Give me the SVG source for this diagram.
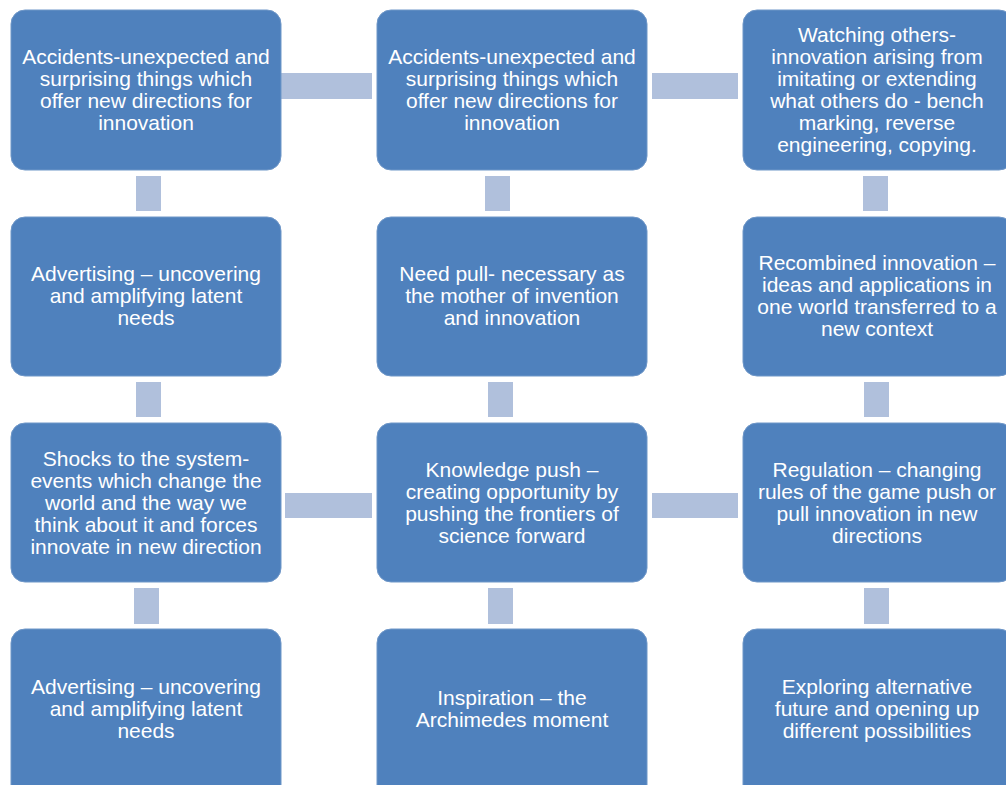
<svg xmlns="http://www.w3.org/2000/svg" width="1006" height="785" viewBox="0 0 1006 785">
<style>
.box{fill:#4F81BD;stroke:#6F97C8;stroke-width:1}
.con{fill:#B0C0DC}
text{font-family:"Liberation Sans",Arial,sans-serif;font-size:21px;fill:#FFFFFF;text-anchor:middle}
</style>
<rect width="1006" height="785" fill="#FFFFFF"/>
<g id="connectors">
<rect class="con" x="281" y="73" width="91" height="26"/>
<rect class="con" x="652" y="73" width="86" height="26"/>
<rect class="con" x="285" y="493" width="87" height="25"/>
<rect class="con" x="652" y="493" width="86" height="25"/>
<rect class="con" x="136" y="176" width="25" height="35"/>
<rect class="con" x="485" y="176" width="25" height="35"/>
<rect class="con" x="863" y="176" width="25" height="35"/>
<rect class="con" x="136" y="382" width="25" height="35"/>
<rect class="con" x="488" y="382" width="25" height="35"/>
<rect class="con" x="864" y="382" width="25" height="35"/>
<rect class="con" x="134" y="588" width="25" height="36"/>
<rect class="con" x="488" y="588" width="25" height="36"/>
<rect class="con" x="864" y="588" width="25" height="36"/>
</g>
<g id="n1">
<rect class="box" x="11" y="10" width="270" height="160" rx="14"/>
<text x="146" y="64">Accidents-unexpected and</text>
<text x="146" y="86">surprising things which</text>
<text x="146" y="108">offer new directions for</text>
<text x="146" y="130">innovation</text>
</g>
<g id="n2">
<rect class="box" x="377" y="10" width="270" height="160" rx="14"/>
<text x="512" y="64">Accidents-unexpected and</text>
<text x="512" y="86">surprising things which</text>
<text x="512" y="108">offer new directions for</text>
<text x="512" y="130">innovation</text>
</g>
<g id="n3">
<rect class="box" x="743" y="10" width="270" height="160" rx="14"/>
<text x="877" y="42">Watching others-</text>
<text x="877" y="64">innovation arising from</text>
<text x="877" y="86">imitating or extending</text>
<text x="877" y="108">what others do - bench</text>
<text x="877" y="130">marking, reverse</text>
<text x="877" y="152">engineering, copying.</text>
</g>
<g id="n4">
<rect class="box" x="11" y="217" width="270" height="159" rx="14"/>
<text x="146" y="281">Advertising – uncovering</text>
<text x="146" y="303">and amplifying latent</text>
<text x="146" y="325">needs</text>
</g>
<g id="n5">
<rect class="box" x="377" y="217" width="270" height="159" rx="14"/>
<text x="512" y="281">Need pull- necessary as</text>
<text x="512" y="303">the mother of invention</text>
<text x="512" y="325">and innovation</text>
</g>
<g id="n6">
<rect class="box" x="743" y="217" width="270" height="159" rx="14"/>
<text x="877" y="270">Recombined innovation –</text>
<text x="877" y="292">ideas and applications in</text>
<text x="877" y="314">one world transferred to a</text>
<text x="877" y="336">new context</text>
</g>
<g id="n7">
<rect class="box" x="11" y="423" width="270" height="159" rx="14"/>
<text x="146" y="466">Shocks to the system-</text>
<text x="146" y="488">events which change the</text>
<text x="146" y="510">world and the way we</text>
<text x="146" y="532">think about it and forces</text>
<text x="146" y="554">innovate in new direction</text>
</g>
<g id="n8">
<rect class="box" x="377" y="423" width="270" height="159" rx="14"/>
<text x="512" y="477">Knowledge push –</text>
<text x="512" y="499">creating opportunity by</text>
<text x="512" y="521">pushing the frontiers of</text>
<text x="512" y="543">science forward</text>
</g>
<g id="n9">
<rect class="box" x="743" y="423" width="270" height="159" rx="14"/>
<text x="877" y="477">Regulation – changing</text>
<text x="877" y="499">rules of the game push or</text>
<text x="877" y="521">pull innovation in new</text>
<text x="877" y="543">directions</text>
</g>
<g id="n10">
<rect class="box" x="11" y="629" width="270" height="170" rx="14"/>
<text x="146" y="694">Advertising – uncovering</text>
<text x="146" y="716">and amplifying latent</text>
<text x="146" y="738">needs</text>
</g>
<g id="n11">
<rect class="box" x="377" y="629" width="270" height="170" rx="14"/>
<text x="512" y="705">Inspiration – the</text>
<text x="512" y="727">Archimedes moment</text>
</g>
<g id="n12">
<rect class="box" x="743" y="629" width="270" height="170" rx="14"/>
<text x="877" y="694">Exploring alternative</text>
<text x="877" y="716">future and opening up</text>
<text x="877" y="738">different possibilities</text>
</g>
</svg>
